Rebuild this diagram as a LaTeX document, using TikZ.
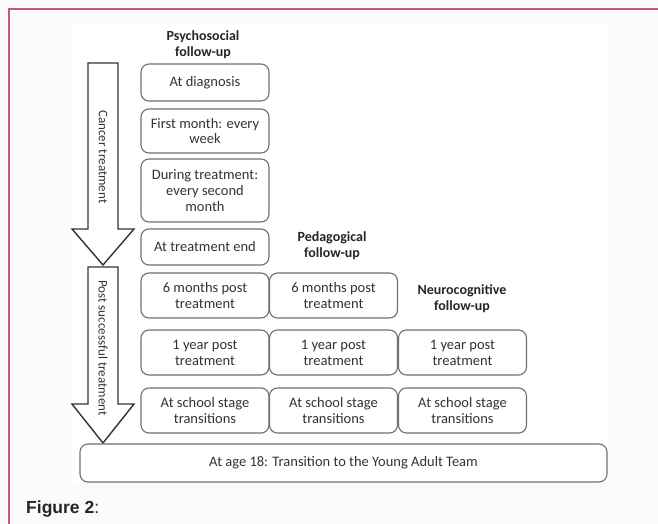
\documentclass[tikz,border=0pt]{standalone}
\usepackage{fontspec}
\setmainfont{Carlito}
\newfontfamily\capfont{Liberation Sans}
\definecolor{framered}{HTML}{C4587A}
\definecolor{pagebg}{HTML}{FCFAFA}
\definecolor{boxline}{HTML}{707070}
\definecolor{boxtext}{HTML}{333333}
\tikzset{
  stagebox/.style={draw=boxline, line width=1.1pt, rounded corners=8pt, minimum width=128pt,
    inner sep=0pt, align=center, text=boxtext, font=\fontsize{14.5}{15.8}\selectfont},
  colhead/.style={align=center, text=black!85, font=\bfseries\fontsize{14}{16}\selectfont},
  timearrow/.style={draw=black!80, line width=1.4pt, fill=white, line join=miter},
  arrowtext/.style={rotate=-90, text=boxtext, font=\fontsize{13}{15}\selectfont}
}
\begin{document}
\begin{tikzpicture}[x=1pt, y=-1pt]
  \useasboundingbox (0,0) rectangle (658,524);
  \fill[pagebg] (0,0) rectangle (658,524);
  \fill[white] (71,24) rectangle (608,482);
  \draw[framered, line width=2pt] (9,524) -- (9,9) -- (658,9);

  \draw[timearrow] (88,63) -- (118,63) -- (118,229) -- (134,229) -- (103,265)
    -- (72,229) -- (88,229) -- cycle;
  \draw[timearrow] (88,267) -- (118,267) -- (118,404) -- (134,404) -- (103,443)
    -- (72,404) -- (88,404) -- cycle;
  \node[arrowtext] (cancer) at (103,157) {Cancer treatment};
  \node[arrowtext] (post) at (103,348) {Post successful treatment};

  \node[colhead] (psyhead) at (203,45) {Psychosocial\\follow-up};
  \node[colhead] (pedhead) at (332,246) {Pedagogical\\follow-up};
  \node[colhead] (neuhead) at (462,299) {Neurocognitive\\follow-up};

  \node[stagebox, minimum height=37pt] (psy1) at (205,82.5) {At diagnosis};
  \node[stagebox, minimum height=44pt] (psy2) at (205,131) {First month: every\\week};
  \node[stagebox, minimum height=63pt] (psy3) at (205,190.5) {During treatment:\\every second\\month};
  \node[stagebox, minimum height=36pt] (psy4) at (205,247) {At treatment end};

  \node[stagebox, minimum height=45pt] (psy5) at (205,295.5) {6 months post\\treatment};
  \node[stagebox, minimum height=45pt] (ped5) at (333.5,295.5) {6 months post\\treatment};

  \node[stagebox, minimum height=45pt] (psy6) at (205,352.5) {1 year post\\treatment};
  \node[stagebox, minimum height=45pt] (ped6) at (333.5,352.5) {1 year post\\treatment};
  \node[stagebox, minimum height=45pt] (neu6) at (462.5,352.5) {1 year post\\treatment};

  \node[stagebox, minimum height=45pt] (psy7) at (205,410.5) {At school stage\\transitions};
  \node[stagebox, minimum height=45pt] (ped7) at (333.5,410.5) {At school stage\\transitions};
  \node[stagebox, minimum height=45pt] (neu7) at (462.5,410.5) {At school stage\\transitions};

  \node[stagebox, minimum width=527pt, minimum height=38pt] (adult) at (343.5,463)
    {At age 18: Transition to the Young Adult Team};

  \node[anchor=base west, inner sep=0pt, text=black!85, font=\capfont\fontsize{17.5}{20}\selectfont]
    (caption) at (26,513) {\textbf{Figure 2}:};
\end{tikzpicture}
\end{document}
